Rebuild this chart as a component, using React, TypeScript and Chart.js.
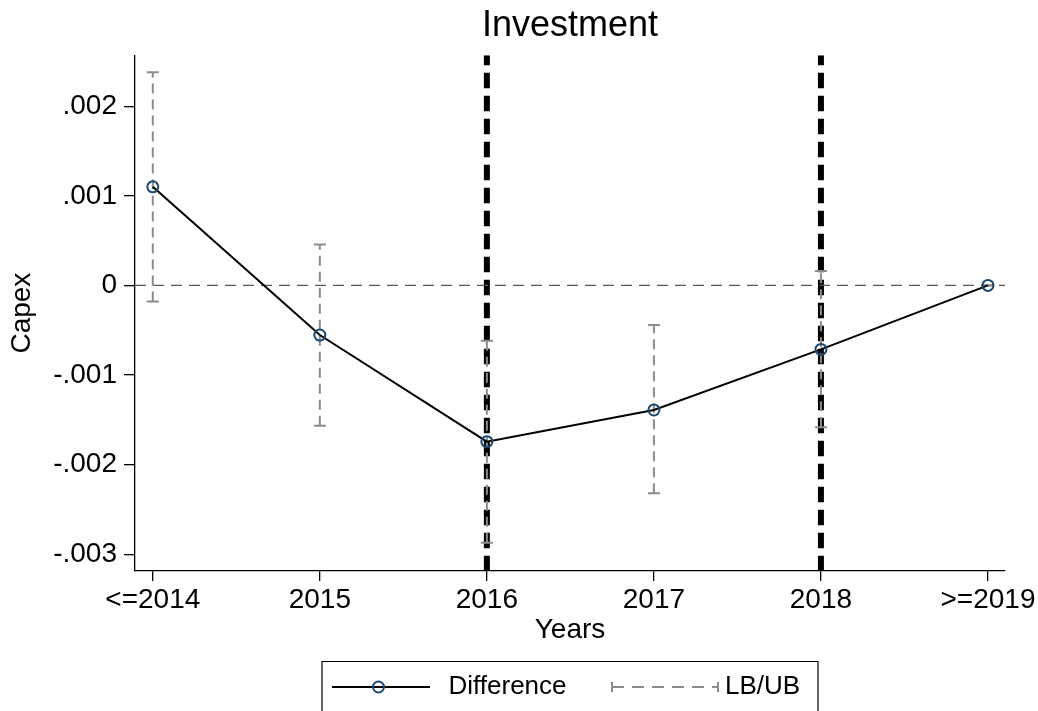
import React, { useEffect, useRef } from "react";
import { Chart, registerables } from "chart.js";

Chart.register(...registerables);

// Event-study estimates of the capex difference by year bucket
const YEARS = ["<=2014", "2015", "2016", "2017", "2018", ">=2019"];
const DIFFERENCE = [0.0011, -0.000554, -0.001744, -0.00139, -0.000714, 0];
const LOWER = [-0.00018, -0.001566, -0.002871, -0.00232, -0.001584, 0];
const UPPER = [0.00238, 0.000457, -0.000617, -0.000443, 0.00016, 0];

// Axis ticks and their Stata-style labels
const Y_TICKS = [0.002, 0.001, 0, -0.001, -0.002, -0.003];
const Y_TICK_LABELS = [".002", ".001", "0", "-.001", "-.002", "-.003"];

// Years marked with vertical reference lines
const EVENT_YEARS = ["2016", "2018"];

const X_RANGE = [-0.1066, 5.102];
const Y_RANGE = [-0.003187, 0.002569];

const FONT = "'Liberation Sans', Arial, Helvetica, sans-serif";
const MARKER_COLOR = "#1a476f";
const CI_COLOR = "#8c8c8c";

const boxLegend = {
  id: "boxLegend",
  afterDraw(chart: any) {
    const { ctx, chartArea } = chart;
    const cx = (chartArea.left + chartArea.right) / 2;
    const left = cx - 248;
    const top = 661.5;
    const midY = 687;
    ctx.save();
    ctx.fillStyle = "#fff";
    ctx.strokeStyle = "#000";
    ctx.lineWidth = 1.2;
    ctx.beginPath();
    ctx.rect(left, top, 496, 70);
    ctx.fill();
    ctx.stroke();

    // "Difference" symbol: line with hollow marker
    ctx.strokeStyle = "#000";
    ctx.lineWidth = 2;
    ctx.setLineDash([]);
    ctx.beginPath();
    ctx.moveTo(left + 10, midY);
    ctx.lineTo(left + 108, midY);
    ctx.stroke();
    ctx.strokeStyle = MARKER_COLOR;
    ctx.beginPath();
    ctx.arc(left + 56.5, midY, 5.5, 0, Math.PI * 2);
    ctx.stroke();

    ctx.fillStyle = "#000";
    ctx.font = `26px ${FONT}`;
    ctx.textBaseline = "middle";
    ctx.textAlign = "left";
    ctx.fillText("Difference", left + 126.5, midY);

    // "LB/UB" symbol: dashed capped range
    const s0 = left + 290;
    const s1 = left + 396;
    ctx.strokeStyle = CI_COLOR;
    ctx.lineWidth = 2;
    ctx.setLineDash([12, 8]);
    ctx.beginPath();
    ctx.moveTo(s0, midY);
    ctx.lineTo(s1, midY);
    ctx.stroke();
    ctx.setLineDash([]);
    ctx.beginPath();
    ctx.moveTo(s0, midY - 5);
    ctx.lineTo(s0, midY + 5);
    ctx.moveTo(s1, midY - 5);
    ctx.lineTo(s1, midY + 5);
    ctx.stroke();

    ctx.fillStyle = "#000";
    ctx.fillText("LB/UB", left + 403, midY);
    ctx.restore();
  },
};

export default function App() {
  const canvasRef = useRef<HTMLCanvasElement | null>(null);

  useEffect(() => {
    const canvas = canvasRef.current;
    if (!canvas) return;

    const diffPoints = YEARS.map((_, i) => ({ x: i, y: DIFFERENCE[i] }));
    const ciPoints: any[] = [];
    YEARS.forEach((_, i) => {
      ciPoints.push({ x: i, y: LOWER[i] });
      ciPoints.push({ x: i, y: UPPER[i] });
      ciPoints.push({ x: i, y: null });
    });
    const eventPoints: any[] = [];
    EVENT_YEARS.forEach((yr) => {
      const i = YEARS.indexOf(yr);
      eventPoints.push({ x: i, y: Y_RANGE[1] });
      eventPoints.push({ x: i, y: Y_RANGE[0] });
      eventPoints.push({ x: i, y: null });
    });

    const chart = new Chart(canvas, {
      type: "line",
      data: {
        datasets: [
          {
            label: "Difference",
            data: diffPoints,
            borderColor: "#000",
            borderWidth: 2,
            pointStyle: "circle",
            pointRadius: 5.5,
            pointBorderWidth: 2,
            pointBorderColor: MARKER_COLOR,
            pointBackgroundColor: "rgba(0,0,0,0)",
            order: 0,
          },
          {
            label: "LB/UB",
            data: ciPoints,
            borderColor: CI_COLOR,
            borderWidth: 2,
            borderDash: [10, 6],
            pointStyle: "line",
            pointRadius: 6,
            pointBorderWidth: 2,
            pointBorderColor: CI_COLOR,
            spanGaps: false,
            order: 1,
          },
          {
            label: "zero",
            data: [
              { x: X_RANGE[0], y: 0 },
              { x: X_RANGE[1], y: 0 },
            ],
            borderColor: "#555",
            borderWidth: 1.3,
            borderDash: [11, 7],
            pointRadius: 0,
            order: 2,
          },
          {
            label: "events",
            data: eventPoints,
            borderColor: "#000",
            borderWidth: 6,
            borderDash: [15.5, 7.5],
            borderDashOffset: 5.5,
            pointRadius: 0,
            spanGaps: false,
            order: 3,
          },
        ],
      } as any,
      options: {
        responsive: false,
        animation: false,
        devicePixelRatio: 1,
        events: [],
        layout: { padding: { left: 0, right: 33, top: 0, bottom: 64 } },
        plugins: {
          legend: { display: false },
          tooltip: { enabled: false },
          title: {
            display: true,
            text: "Investment",
            color: "#000",
            fullSize: false,
            font: { family: FONT, size: 36, weight: "normal", lineHeight: 1.2 },
            padding: { top: 4, bottom: 8 },
          },
        },
        scales: {
          x: {
            type: "linear",
            min: X_RANGE[0],
            max: X_RANGE[1],
            afterBuildTicks: (s: any) => {
              s.ticks = YEARS.map((_, i) => ({ value: i }));
            },
            afterFit: (s: any) => {
              s.height = 76;
              s.paddingLeft = 0;
              s.paddingRight = 0;
            },
            ticks: {
              autoSkip: false,
              maxRotation: 0,
              color: "#000",
              padding: 2,
              font: { family: FONT, size: 28 },
              callback: (_v: any, i: number) => YEARS[i],
            },
            grid: {
              drawOnChartArea: false,
              drawTicks: true,
              tickLength: 10,
              color: "#000",
              lineWidth: 1.3,
            },
            border: { display: true, color: "#000", width: 1.3 },
            title: {
              display: true,
              text: "Years",
              color: "#000",
              font: { family: FONT, size: 28, lineHeight: 1.2 },
              padding: { top: 0, bottom: 0 },
            },
          },
          y: {
            type: "linear",
            min: Y_RANGE[0],
            max: Y_RANGE[1],
            afterBuildTicks: (s: any) => {
              s.ticks = Y_TICKS.map((v) => ({ value: v }));
            },
            afterFit: (s: any) => {
              s.width = 135;
              s.paddingTop = 0;
              s.paddingBottom = 0;
            },
            ticks: {
              autoSkip: false,
              color: "#000",
              padding: 7,
              font: { family: FONT, size: 28 },
              callback: (_v: any, i: number) => Y_TICK_LABELS[i],
            },
            grid: {
              drawOnChartArea: false,
              drawTicks: true,
              tickLength: 11,
              color: "#000",
              lineWidth: 1.3,
            },
            border: { display: true, color: "#000", width: 1.3 },
            title: {
              display: true,
              text: "Capex",
              color: "#000",
              font: { family: FONT, size: 28, lineHeight: 1.2 },
              padding: { top: 5, bottom: 0 },
            },
          },
        },
      } as any,
      plugins: [boxLegend],
    });

    return () => chart.destroy();
  }, []);

  return (
    <div
      style={{
        position: "fixed",
        left: 0,
        top: 0,
        width: 1038,
        height: 711,
        background: "#fff",
      }}
    >
      <canvas ref={canvasRef} width={1038} height={711} />
    </div>
  );
}
